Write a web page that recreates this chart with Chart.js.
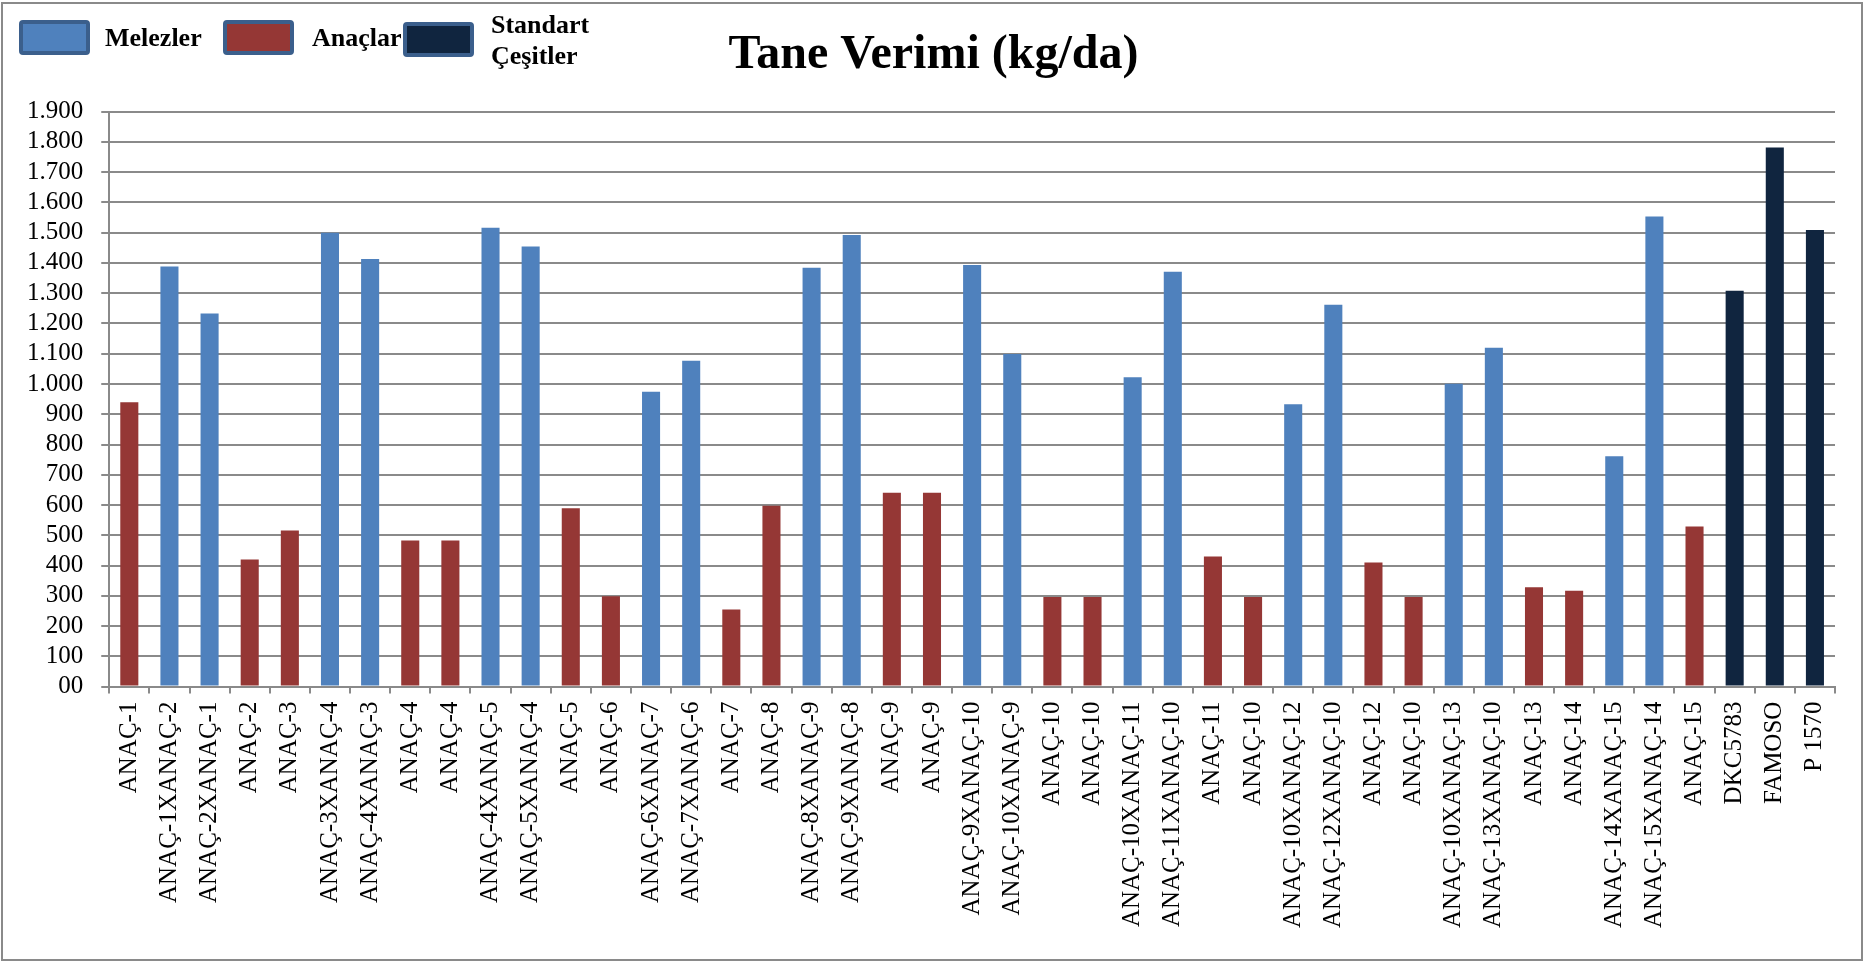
<!DOCTYPE html>
<html>
<head>
<meta charset="utf-8">
<script src="https://cdn.jsdelivr.net/npm/chart.js@4.4.1/dist/chart.umd.min.js"></script>
<style>
  body { margin: 0; background: #fff; }
  #wrap { position: relative; width: 1867px; height: 961px; }
  .lg-box { position: absolute; width: 63px; height: 27px; border: 4px solid #3b5f8c; border-radius: 4px; }
  .lg-text { position: absolute; font-family: "Liberation Serif", serif; font-weight: bold; font-size: 26px; line-height: 31px; color: #000; white-space: nowrap; }
</style>
</head>
<body>
<div id="wrap">
  <canvas id="grafik" width="1867" height="961"></canvas>
</div>
<script>
const kategoriler = [
  "ANAÇ-1", "ANAÇ-1XANAÇ-2", "ANAÇ-2XANAÇ-1", "ANAÇ-2", "ANAÇ-3",
  "ANAÇ-3XANAÇ-4", "ANAÇ-4XANAÇ-3", "ANAÇ-4", "ANAÇ-4", "ANAÇ-4XANAÇ-5",
  "ANAÇ-5XANAÇ-4", "ANAÇ-5", "ANAÇ-6", "ANAÇ-6XANAÇ-7", "ANAÇ-7XANAÇ-6",
  "ANAÇ-7", "ANAÇ-8", "ANAÇ-8XANAÇ-9", "ANAÇ-9XANAÇ-8", "ANAÇ-9",
  "ANAÇ-9", "ANAÇ-9XANAÇ-10", "ANAÇ-10XANAÇ-9", "ANAÇ-10", "ANAÇ-10",
  "ANAÇ-10XANAÇ-11", "ANAÇ-11XANAÇ-10", "ANAÇ-11", "ANAÇ-10", "ANAÇ-10XANAÇ-12",
  "ANAÇ-12XANAÇ-10", "ANAÇ-12", "ANAÇ-10", "ANAÇ-10XANAÇ-13", "ANAÇ-13XANAÇ-10",
  "ANAÇ-13", "ANAÇ-14", "ANAÇ-14XANAÇ-15", "ANAÇ-15XANAÇ-14", "ANAÇ-15",
  "DKC5783", "FAMOSO", "P 1570"
];

// tane verimi kg/da
const verim = [
  940, 1388, 1233, 420, 516,
  1500, 1413, 483, 483, 1516,
  1454, 589, 299, 974, 1077,
  255, 598, 1384, 1492, 641,
  641, 1393, 1099, 296, 296,
  1022, 1371, 430, 296, 933,
  1262, 410, 296, 1001, 1120,
  328, 317, 761, 1553, 529,
  1308, 1781, 1509
];

// M = melez, A = anaç, S = standart çeşit
const grup = [
  "A", "M", "M", "A", "A",
  "M", "M", "A", "A", "M",
  "M", "A", "A", "M", "M",
  "A", "A", "M", "M", "A",
  "A", "M", "M", "A", "A",
  "M", "M", "A", "A", "M",
  "M", "A", "A", "M", "M",
  "A", "A", "M", "M", "A",
  "S", "S", "S"
];

const seriKodlari = ["M", "A", "S"];
const seriAdlari = ["Melezler", "Anaçlar", ["Standart", "Çeşitler"]];
const seriRenkleri = ["#4f81bd", "#953735", "#10253f"];

const yEtiketleri = ["00", "100", "200", "300", "400", "500", "600", "700", "800", "900",
  "1.000", "1.100", "1.200", "1.300", "1.400", "1.500", "1.600", "1.700", "1.800", "1.900"];

const datasets = seriKodlari.map((kod, i) => ({
  label: Array.isArray(seriAdlari[i]) ? seriAdlari[i].join(" ") : seriAdlari[i],
  data: verim.map((v, j) => (grup[j] === kod ? v : null)),
  backgroundColor: seriRenkleri[i],
  borderWidth: 0,
  grouped: false,
  barPercentage: 0.45,
  categoryPercentage: 1.0
}));

// legend (html)
const wrap = document.getElementById("wrap");
const kutuX = [19, 223, 403];
const yaziX = [105, 312, 491];
seriKodlari.forEach((kod, i) => {
  const kutu = document.createElement("div");
  kutu.className = "lg-box";
  kutu.style.left = kutuX[i] + "px";
  kutu.style.top = (i === 2 ? 22 : 20) + "px";
  kutu.style.background = seriRenkleri[i];
  wrap.appendChild(kutu);

  const yazi = document.createElement("div");
  yazi.className = "lg-text";
  yazi.style.left = yaziX[i] + "px";
  if (Array.isArray(seriAdlari[i])) {
    yazi.style.top = "9px";
    yazi.innerHTML = seriAdlari[i].join("<br>");
  } else {
    yazi.style.top = "22px";
    yazi.textContent = seriAdlari[i];
  }
  wrap.appendChild(yazi);
});

const cerceve = {
  id: "cerceve",
  afterLayout(chart) {
    // center the title on the whole canvas, not on the padded box
    const t = chart.titleBlock;
    if (t) {
      t.left = 32;
      t.right = chart.width - 32;
    }
  },
  beforeDraw(chart) {
    const ctx = chart.ctx;
    ctx.save();
    ctx.fillStyle = "#ffffff";
    ctx.fillRect(0, 0, chart.width, chart.height);
    ctx.restore();
  },
  afterDraw(chart) {
    const ctx = chart.ctx;
    ctx.save();
    ctx.strokeStyle = "#8a8a8a";
    ctx.lineWidth = 2;
    ctx.strokeRect(2, 3, 1860, 957);
    ctx.restore();
  }
};

new Chart(document.getElementById("grafik"), {
  type: "bar",
  data: {
    labels: kategoriler,
    datasets: datasets
  },
  options: {
    responsive: false,
    animation: false,
    layout: {
      padding: { left: 9, right: 32, top: 0, bottom: 25 }
    },
    scales: {
      x: {
        offset: true,
        grid: {
          offset: true,
          drawOnChartArea: false,
          drawTicks: true,
          tickLength: 7,
          color: "#8a8a8a",
          lineWidth: 2
        },
        border: { display: true, color: "#8a8a8a", width: 2 },
        ticks: {
          autoSkip: false,
          maxRotation: 90,
          minRotation: 90,
          padding: 8,
          color: "#000",
          font: { family: "'Liberation Serif', serif", size: 25 }
        }
      },
      y: {
        min: 0,
        max: 1900,
        ticks: {
          stepSize: 100,
          autoSkip: false,
          padding: 18,
          color: "#000",
          font: { family: "'Liberation Serif', serif", size: 25 },
          callback: function (val, index) {
            return yEtiketleri[index];
          }
        },
        grid: {
          color: "#8a8a8a",
          lineWidth: 2,
          tickLength: 8
        },
        border: { display: true, color: "#8a8a8a", width: 2 }
      }
    },
    plugins: {
      legend: { display: false },
      tooltip: { enabled: false },
      title: {
        display: true,
        text: "Tane Verimi (kg/da)",
        color: "#000",
        font: { family: "'Liberation Serif', serif", size: 48, weight: "bold" },
        padding: { top: 27, bottom: 27 }
      }
    }
  },
  plugins: [cerceve]
});
</script>
</body>
</html>
